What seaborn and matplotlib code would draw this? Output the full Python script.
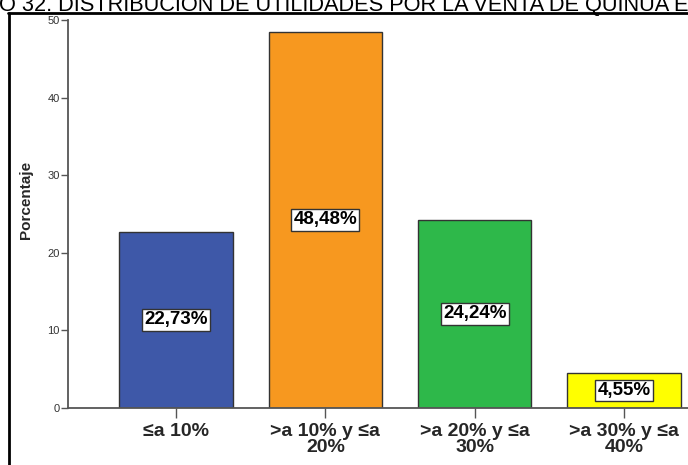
import matplotlib
matplotlib.use("Agg")
import matplotlib.pyplot as plt
from matplotlib.lines import Line2D
import seaborn as sns
import pandas as pd

categories = ["\u2264a 10%", ">a 10% y \u2264a\n20%", ">a 20% y \u2264a\n30%", ">a 30% y \u2264a\n40%"]
values = [22.73, 48.48, 24.24, 4.55]
colors = ["#3E58A8", "#F7981F", "#2EB84A", "#FFFF00"]
y_ticks = [0, 10, 20, 30, 40, 50]
title_prefix = "GRÁFIC"
title_rest = "O 32. DISTRIBUCIÓN DE UTILIDADES POR LA VENTA DE QUINUA EN"

sns.set_style("white")
plt.rcParams["font.family"] = ["Liberation Sans", "DejaVu Sans"]

df = pd.DataFrame({"cat": categories, "val": values})

W, H = 688, 465
fig = plt.figure(figsize=(W / 100, H / 100), dpi=100)
ax = fig.add_axes([68 / W, 1 - 408 / H, 664 / W, 388 / H])

sns.barplot(data=df, x="cat", y="val", hue="cat", palette=colors, legend=False,
            width=0.757, edgecolor="#333333", linewidth=1.0, saturation=1, ax=ax)

ax.set_xlim(-0.723, 3.723)
ax.set_ylim(0, 50)
ax.set_yticks(y_ticks)
ax.set_yticklabels([str(t) for t in y_ticks], fontsize=8, color="#333333")
ax.tick_params(axis="y", direction="out", length=5, width=1, color="#555555", left=True, pad=1)
ax.tick_params(axis="x", direction="out", length=7, width=1, color="#555555", bottom=True, pad=4)
for lab in ax.get_xticklabels():
    lab.set_fontsize(14)
    lab.set_fontweight("bold")
    lab.set_linespacing(0.9)
ax.set_xlabel("")
ax.set_ylabel("Porcentaje", fontsize=11, fontweight="bold")
ax.yaxis.set_label_coords(-0.053, 0.536)

for s in ["top", "right"]:
    ax.spines[s].set_visible(False)
for s in ["left", "bottom"]:
    ax.spines[s].set_color("#555555")
    ax.spines[s].set_linewidth(1.3)

for i, v in enumerate(values):
    ax.text(i, v / 2, f"{v:.2f}%".replace(".", ","), ha="center", va="center",
            fontsize=13.5, fontweight="bold", color="black",
            bbox=dict(boxstyle="square,pad=0.12", facecolor="white", edgecolor="#333333", linewidth=1))

# outer frame
fig.add_artist(Line2D([9 / W, 9 / W], [0, 1 - 13 / H], transform=fig.transFigure, color="black", linewidth=2))
fig.add_artist(Line2D([8 / W, 1], [1 - 13 / H, 1 - 13 / H], transform=fig.transFigure, color="black", linewidth=2))

# title, left part runs past the figure edge
renderer = fig.canvas.get_renderer()
probe = fig.text(0, 0, title_prefix, fontsize=15.7)
pw = probe.get_window_extent(renderer).width
probe.remove()
fig.text((-pw - 1) / W, 1 - 11 / H, title_prefix + title_rest, ha="left", va="baseline",
         fontsize=15.7, color="black")

fig.savefig("out.png", dpi=100)
